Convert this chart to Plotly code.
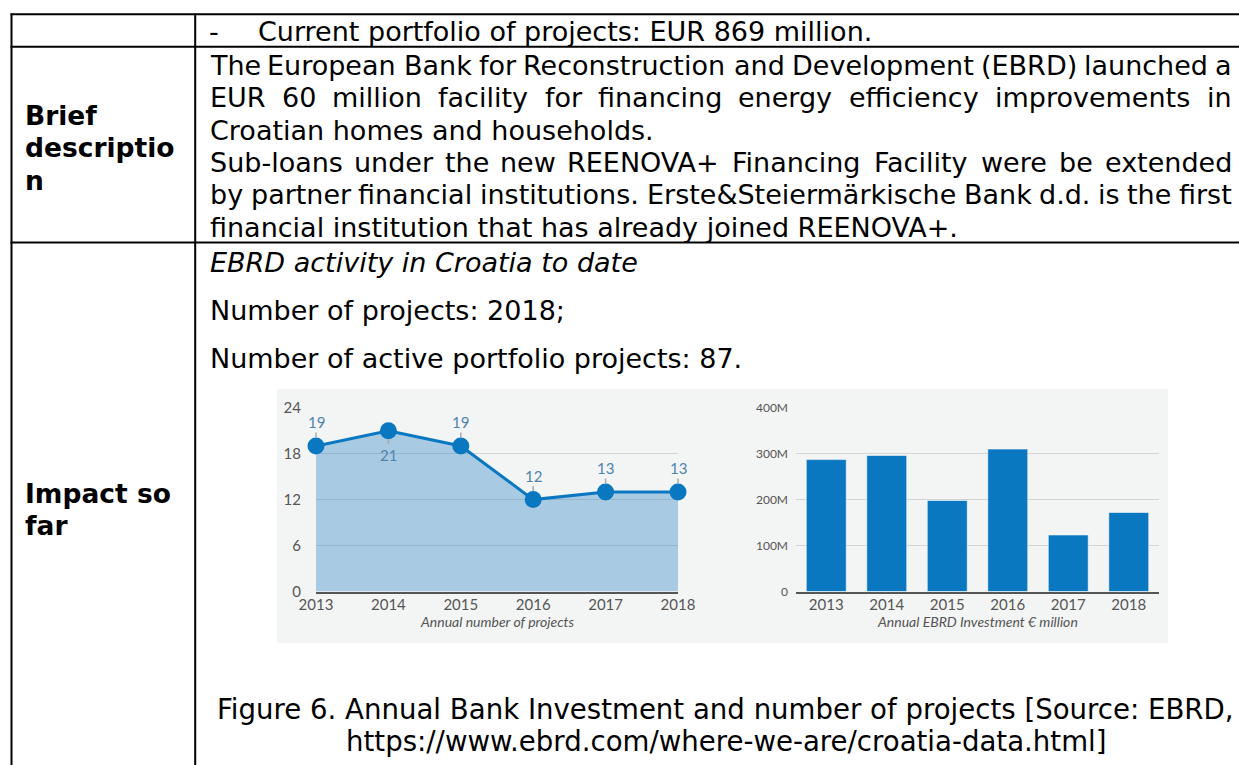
import plotly.graph_objects as go

# ---------------- data ----------------
years = [2013, 2014, 2015, 2016, 2017, 2018]
projects = [19, 21, 19, 12, 13, 13]
label_below = [False, True, False, False, False, False]
investment_m = [287, 296, 198, 310, 123, 172]
project_ticks = [0, 6, 12, 18, 24]
invest_ticks = [0, 100, 200, 300, 400]
invest_tick_labels = ["0", "100M", "200M", "300M", "400M"]

left_title = "Annual number of projects"
right_title = "Annual EBRD Investment € million"

row1_text = "Current portfolio of projects: EUR 869 million."
desc_lines = [
    "The European Bank for Reconstruction and Development (EBRD) launched a",
    "EUR 60 million facility for financing energy efficiency improvements in",
    "Croatian homes and households.",
    "Sub-loans under the new REENOVA+ Financing Facility were be extended",
    "by partner financial institutions. Erste&Steiermärkische Bank d.d. is the first",
    "financial institution that has already joined REENOVA+.",
]
desc_justified = [True, True, False, True, True, False]
brief_label = ["Brief", "descriptio", "n"]
impact_label = ["Impact so", "far"]
impact_lines = [
    "Number of projects: 2018;",
    "Number of active portfolio projects: 87.",
]
impact_intro = "EBRD activity in Croatia to date"
caption_lines = [
    "Figure 6. Annual Bank Investment and number of projects [Source: EBRD,",
    "https://www.ebrd.com/where-we-are/croatia-data.html]",
]

# ---------------- layout helpers ----------------
W, H = 1239, 765
DOC_FONT = "Verdana, DejaVu Sans"
FS = 27.0
FS_BOLD = 26.5
CH_FONT = "Lato"
BLUE = "#0a77c1"
TXT = "#555555"


def px(x):
    return x / W


def py(y):
    return 1 - y / H


DV = {' ': 651, '!': 823, '&': 1597, '(': 799, ')': 799, '+': 1716, ',': 651, '-': 739,
      '.': 651, '/': 690, ':': 690, ';': 690, 'A': 1401, 'B': 1405, 'C': 1430, 'D': 1577,
      'E': 1294, 'F': 1178, 'G': 1587, 'H': 1540, 'I': 604, 'J': 604, 'K': 1343, 'L': 1141,
      'M': 1767, 'N': 1532, 'O': 1612, 'P': 1235, 'R': 1423, 'S': 1300, 'T': 1251, 'U': 1499,
      'V': 1401, 'W': 2025, 'Y': 1251, 'a': 1255, 'b': 1300, 'c': 1126, 'd': 1300, 'e': 1260,
      'f': 721, 'g': 1300, 'h': 1298, 'i': 569, 'j': 569, 'k': 1186, 'l': 569, 'm': 1995,
      'n': 1298, 'o': 1253, 'p': 1300, 'q': 1300, 'r': 842, 's': 1067, 't': 803, 'u': 1298,
      'v': 1212, 'w': 1675, 'x': 1212, 'y': 1212, 'z': 1075, 'ä': 1255}
for d in "0123456789":
    DV[d] = 1303


def tw(s, size):
    return sum(DV.get(c, 1200) for c in s) / 2048 * size


annotations = []


def add_text(text, x, y, anchor="left", size=FS, family=DOC_FONT, color="black"):
    annotations.append(dict(
        text=text, x=px(x), y=py(y), xref="paper", yref="paper",
        xanchor=anchor, yanchor="middle", showarrow=False,
        borderpad=0, borderwidth=0,
        font=dict(family=family, size=size, color=color)))


def add_justified(line, y, left, right, size=FS):
    words = line.split(" ")
    widths = [tw(w, size) for w in words]
    gap = (right - left - sum(widths)) / (len(words) - 1)
    xc = left
    for i, (w, wd) in enumerate(zip(words, widths)):
        if i == len(words) - 1:
            add_text(w, right, y, anchor="right", size=size)
        else:
            add_text(w, xc, y, anchor="left", size=size)
        xc += wd + gap


# ---------------- figure ----------------
fig = go.Figure()

fig.add_trace(go.Scatter(
    x=years, y=projects, mode="lines+markers", fill="tozeroy",
    fillcolor="rgba(10,119,193,0.32)",
    line=dict(color=BLUE, width=3),
    marker=dict(size=17, color=BLUE),
    cliponaxis=False, xaxis="x", yaxis="y", showlegend=False, hoverinfo="skip"))

fig.add_trace(go.Bar(
    x=years, y=investment_m, width=0.66,
    marker=dict(color=BLUE, line=dict(color="rgba(255,255,255,0.55)", width=1)),
    xaxis="x2", yaxis="y2", showlegend=False, hoverinfo="skip"))

# data labels with leader lines
for yr, v, below in zip(years, projects, label_below):
    annotations.append(dict(
        x=yr, y=v, xref="x", yref="y", text=str(v), showarrow=True,
        arrowhead=0, arrowwidth=1.5, arrowcolor="#aaaaaa", ax=0,
        ay=24 if below else -24, standoff=8.5,
        font=dict(family=CH_FONT, size=15, color="#4f84ae")))

# axis titles
add_text("<i>" + left_title + "</i>", (316 + 678) / 2, 621.5, anchor="center",
         size=14, family=CH_FONT, color=TXT)
add_text("<i>" + right_title + "</i>", (796 + 1159) / 2, 621.5, anchor="center",
         size=14, family=CH_FONT, color=TXT)

# document text
add_text("-", 209, 31.8)
add_text(row1_text, 258, 31.8)
for i, (ln, just) in enumerate(zip(desc_lines, desc_justified)):
    yy = 65.3 + 32.4 * i
    if just:
        add_justified(ln, yy, 210, 1232)
    else:
        add_text(ln, 210, yy)
for i, ln in enumerate(brief_label):
    add_text("<b>" + ln + "</b>", 25, 115 + 32.5 * i, size=FS_BOLD)
for i, ln in enumerate(impact_label):
    add_text("<b>" + ln + "</b>", 25, 493 + 32.5 * i, size=FS_BOLD)
add_text("<i>" + impact_intro + "</i>", 210, 262)
for i, ln in enumerate(impact_lines):
    add_text(ln, 210, 310 + 48 * i)
for i, ln in enumerate(caption_lines):
    add_text(ln, 725.5, 709 + 32.4 * i, anchor="center", size=27.6)

# shapes: chart panel and table rules
shapes = [
    dict(type="rect", xref="paper", yref="paper", x0=px(277), x1=px(1168),
         y0=py(643), y1=py(389), fillcolor="#f3f4f4", line=dict(width=0), layer="below"),
]
line_style = dict(color="black", width=2)
for yy in [14.3, 46.8, 242.5]:
    shapes.append(dict(type="line", xref="paper", yref="paper", x0=px(10.5), x1=1,
                       y0=py(yy), y1=py(yy), line=line_style))
for xx in [11.5, 195.2]:
    shapes.append(dict(type="line", xref="paper", yref="paper", x0=px(xx), x1=px(xx),
                       y0=py(13.5), y1=0, line=line_style))

ydom = [py(591.5), py(407.7)]
axis_common = dict(ticks="", automargin=False,
                   tickfont=dict(family=CH_FONT, size=15, color=TXT))

fig.update_layout(
    width=W, height=H, margin=dict(l=0, r=0, t=0, b=0, pad=0, autoexpand=False),
    paper_bgcolor="white", plot_bgcolor="rgba(0,0,0,0)",
    showlegend=False, bargap=0.34,
    xaxis=dict(domain=[px(316), px(678)], range=[2013, 2018], tickvals=years,
               showgrid=False, zeroline=False, showline=True, linecolor="#555555",
               linewidth=2, anchor="y", fixedrange=True, ticklabelstandoff=-2,
               **axis_common),
    yaxis=dict(domain=ydom, range=[0, 24], tickvals=project_ticks, showgrid=True,
               gridcolor="#d4d4d4", gridwidth=1.5, zeroline=False, showline=False,
               anchor="x", ticklabelstandoff=14, fixedrange=True, **axis_common),
    xaxis2=dict(domain=[px(796), px(1159)], range=[2012.5, 2018.5], tickvals=years,
                showgrid=False, zeroline=False, showline=True, linecolor="#555555",
                linewidth=2, anchor="y2", fixedrange=True, ticklabelstandoff=-2,
                **axis_common),
    yaxis2=dict(domain=ydom, range=[0, 400], tickvals=invest_ticks,
                ticktext=invest_tick_labels, showgrid=True, gridcolor="#d4d4d4",
                gridwidth=1.5, zeroline=False, showline=False, anchor="x2",
                ticklabelstandoff=7, fixedrange=True, ticks="", automargin=False,
                tickfont=dict(family=CH_FONT, size=12, color=TXT)),
    annotations=annotations,
    shapes=shapes,
)

post = (
    "document.body.style.margin='0';document.body.style.padding='0';"
    "document.body.style.overflow='hidden';"
)

fig.write_html("out.html", config={"displayModeBar": False, "staticPlot": True},
               post_script=post)
